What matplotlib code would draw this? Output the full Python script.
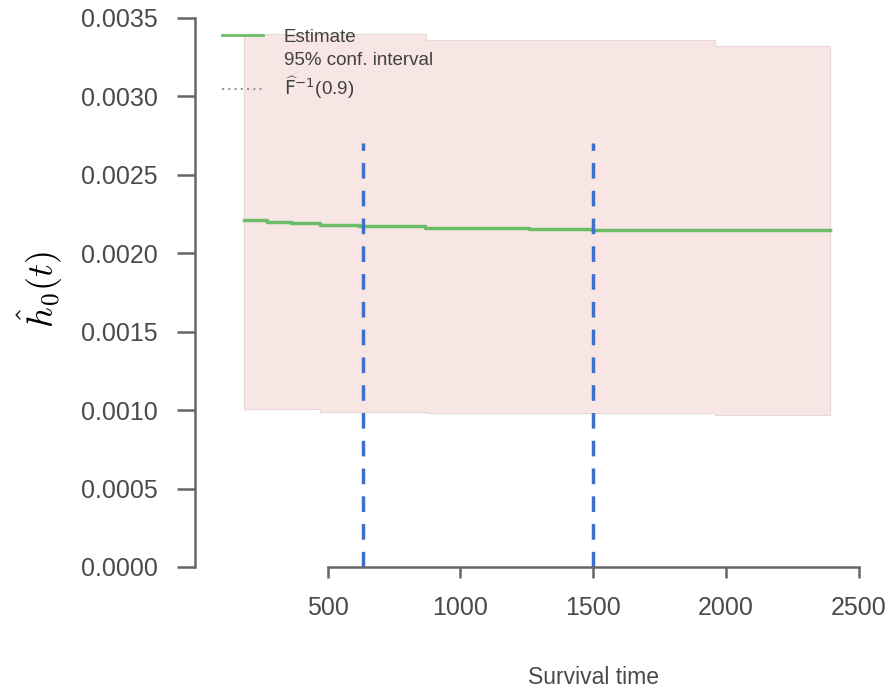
import matplotlib.pyplot as plt
from matplotlib.lines import Line2D
from matplotlib.patches import Patch
from matplotlib.transforms import blended_transform_factory

plt.rcParams['font.family'] = ['Liberation Sans', 'DejaVu Sans']

# estimated baseline hazard (step function)
est_time = [184, 270, 360, 470, 617, 865, 1257, 1494, 2391]
est_hazard = [0.002210, 0.002201, 0.002191, 0.002182, 0.002173, 0.002163, 0.002154, 0.002148, 0.002148]

# 95% confidence band
band_time = [184, 470, 870, 1960, 2391]
band_lower = [0.00101, 0.00099, 0.00098, 0.00097, 0.00097]
band_upper = [0.00340, 0.00340, 0.00336, 0.00332, 0.00332]

# quantile markers F^-1(0.9)
q_time = [632, 1500]
q_top = 0.0027

x_ticks = [500, 1000, 1500, 2000, 2500]
y_ticks = [0.0, 0.0005, 0.0010, 0.0015, 0.0020, 0.0025, 0.0030, 0.0035]

fig = plt.figure(figsize=(8.96, 6.89), dpi=100)
ax = fig.add_axes([0.2176, 0.1771, 0.7645, 0.7968])

axis_col = '#666666'
text_col = '#4a4a4a'

ax.fill_between(band_time, band_lower, band_upper, step='post',
                facecolor='#f7e6e3', edgecolor='#e6d8d6', linewidth=0.8)
ax.plot(est_time, est_hazard, drawstyle='steps-post', color='#6cbd6a', linewidth=2.5)
for t in q_time:
    ax.plot([t, t], [0, q_top], color='#3d6fcb', linewidth=2.5, dashes=(4.5, 3.5))

ax.set_xlim(0, 2580)
ax.set_ylim(0, 0.0035)

for side in ['top', 'right']:
    ax.spines[side].set_visible(False)
ax.spines['left'].set_bounds(0, 0.0035)
ax.spines['bottom'].set_bounds(500, 2500)
for side in ['left', 'bottom']:
    ax.spines[side].set_color(axis_col)
    ax.spines[side].set_linewidth(1.8)

ax.set_xticks(x_ticks)
ax.set_xticklabels([str(v) for v in x_ticks])
ax.set_yticks(y_ticks)
ax.set_yticklabels(['%.4f' % v for v in y_ticks])
ax.tick_params(axis='y', length=13, width=1.8, color=axis_col, pad=14,
               labelsize=18, labelcolor=text_col)
ax.tick_params(axis='x', length=8, width=1.8, color=axis_col, pad=13,
               labelsize=18, labelcolor=text_col)

# x label centred under the axis line (R style)
trans = blended_transform_factory(ax.transData, fig.transFigure)
ax.text(1500, 1 - 678 / 689, 'Survival time', transform=trans, fontsize=16.5,
        color=text_col, ha='center', va='center')
fig.text(0.045, 0.58, r'$\hat{h}_0(t)$', rotation=90, fontsize=26,
         math_fontfamily='cm', ha='center', va='center')

handles = [
    Line2D([], [], color='#6cbd6a', linewidth=2),
    Patch(facecolor='none', edgecolor='none'),
    Line2D([], [], color='#999999', linewidth=1.5, linestyle=(0, (1, 2))),
]
labels = ['Estimate', '95% conf. interval', r'$\widehat{\mathrm{F}}^{\mathrm{-1}}$(0.9)']
leg = ax.legend(handles, labels, loc='upper left', bbox_to_anchor=(0.028, 0.994),
                frameon=False, fontsize=13.5, handlelength=2.2, handletextpad=1.1,
                labelspacing=0.3, borderaxespad=0)
for txt in leg.get_texts():
    txt.set_color('#404040')

for art in ax.collections + ax.lines:
    art.set_clip_on(False)

fig.savefig('out.png', dpi=100)
